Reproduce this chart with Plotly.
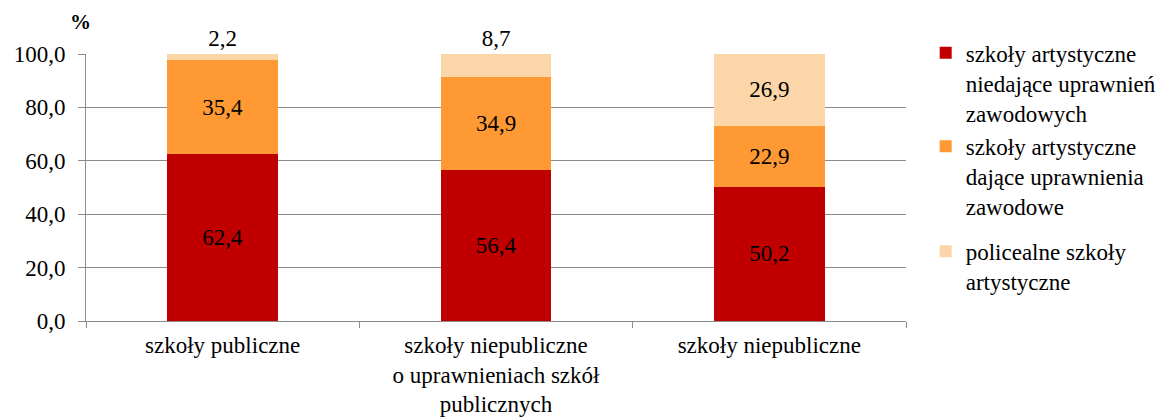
import plotly.graph_objects as go

categories = ["szkoły publiczne",
              "szkoły niepubliczne<br>o uprawnieniach szkół<br>publicznych",
              "szkoły niepubliczne"]
series_names = ["szkoły artystyczne<br>niedające uprawnień<br>zawodowych",
                "szkoły artystyczne<br>dające uprawnienia<br>zawodowe",
                "policealne szkoły<br>artystyczne"]
val_niedajace = [62.4, 56.4, 50.2]
val_dajace = [35.4, 34.9, 22.9]
val_policealne = [2.2, 8.7, 26.9]
colors = ["#C00000", "#FF9933", "#FCD5A8"]
ytick_vals = [0, 20, 40, 60, 80, 100]

FONT = "Liberation Serif"
FS = 23

def fmt(v):
    return f"{v:.1f}".replace(".", ",")

fig = go.Figure()
series = [val_niedajace, val_dajace, val_policealne]
legend_ids = ["legend", "legend2", "legend3"]
legend_y = [1.085, 0.735, 0.342]
for i, (name, vals, col) in enumerate(zip(series_names, series, colors)):
    if i == 2:
        pos = ["outside" if v < 10 else "inside" for v in vals]
    else:
        pos = "inside"
    fig.add_trace(go.Bar(
        x=categories, y=vals, name=name, marker_color=col,
        marker_line_width=0,
        text=[fmt(v) for v in vals], textposition=pos,
        insidetextanchor="middle",
        textfont=dict(family=FONT, size=FS, color="black"),
        outsidetextfont=dict(family=FONT, size=FS, color="black"),
        insidetextfont=dict(family=FONT, size=FS, color="black"),
        cliponaxis=False, width=0.405,
        legend=legend_ids[i],
    ))

leg_common = dict(x=1.024, xanchor="left", yanchor="top", valign="top",
                  font=dict(family=FONT, size=FS, color="black"),
                  itemwidth=30, bgcolor="rgba(0,0,0,0)")
fig.update_layout(
    barmode="stack",
    width=1167, height=417,
    margin=dict(l=78, r=269, t=46, b=104, autoexpand=False),
    paper_bgcolor="white", plot_bgcolor="white",
    font=dict(family=FONT, size=FS, color="black"),
    separators=", ",
    uniformtext=dict(minsize=FS, mode="show"),
    legend=dict(y=legend_y[0], **leg_common),
    legend2=dict(y=legend_y[1], **leg_common),
    legend3=dict(y=legend_y[2], **leg_common),
    showlegend=True,
)
fig.update_yaxes(range=[0, 100], tickvals=ytick_vals, tickformat=".1f",
                 showgrid=True, gridcolor="#8C8C8C", gridwidth=1,
                 showline=True, linecolor="#8C8C8C", linewidth=1,
                 ticks="outside", ticklen=7, tickcolor="#8C8C8C",
                 zeroline=False, automargin=False, ticklabelstandoff=8,
                 tickfont=dict(family=FONT, size=FS, color="black"))
fig.update_xaxes(showgrid=False, showline=True, linecolor="#8C8C8C", linewidth=1,
                 ticks="outside", ticklen=6, tickcolor="#8C8C8C",
                 tickson="boundaries", automargin=False, ticklabelstandoff=3,
                 tickfont=dict(family=FONT, size=FS, color="black"))
fig.add_annotation(text="<b>%</b>", xref="paper", yref="paper", x=0, y=1,
                   xshift=-6, yshift=18, xanchor="center", yanchor="bottom",
                   showarrow=False, font=dict(family=FONT, size=FS - 2, color="black"))

fig.write_html("out.html")
